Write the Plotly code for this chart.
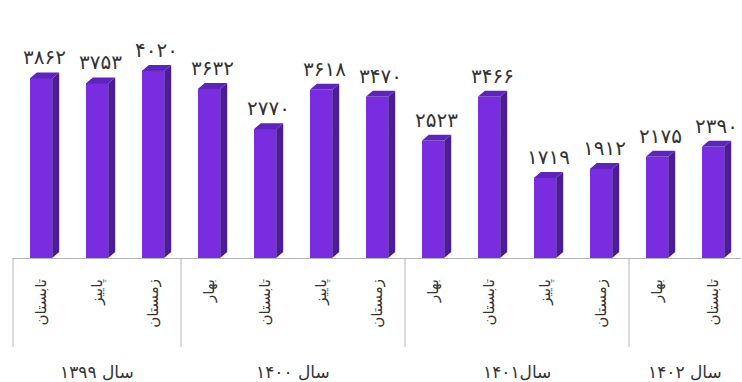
import plotly.graph_objects as go

# Seasonal values, grouped by Persian year
seasons = ["تابستان", "پاییز", "زمستان",
           "بهار", "تابستان", "پاییز", "زمستان",
           "بهار", "تابستان", "پاییز", "زمستان",
           "بهار", "تابستان"]
values = [3862, 3753, 4020, 3632, 2770, 3618, 3470, 2523, 3466, 1719, 1912, 2175, 2390]
years = ["سال ۱۳۹۹", "سال ۱۴۰۰", "سال۱۴۰۱", "سال ۱۴۰۲"]
year_sizes = [3, 4, 4, 2]

FA_DIGITS = str.maketrans("0123456789", "۰۱۲۳۴۵۶۷۸۹")


def fa(n):
    return str(n).translate(FA_DIGITS)


W, H = 742, 382
ML, MR, MT, MB = 13, 1, 0, 124
plot_h = H - MT - MB
plot_w = W - ML - MR
n = len(values)
y_top = 5548

FONT = "DejaVu Sans"
FRONT = "#7a2de0"
SIDE = "#4b1b98"
TOP = "#5d25bb"

bar_w = 0.40
# depth of the pseudo-3D extrusion, converted from pixels to data units
dx = 7 / (plot_w / n)
dy = 6 * y_top / plot_h

xs = list(range(n))

fig = go.Figure()

fig.add_trace(go.Bar(
    x=xs, y=values, width=bar_w,
    marker=dict(color=FRONT, line=dict(width=0)),
    hoverinfo="skip", showlegend=False,
))

side_x, side_y, top_x, top_y = [], [], [], []
for x, v in zip(xs, values):
    xl, xr = x - bar_w / 2, x + bar_w / 2
    side_x += [xr, xr, xr + dx, xr + dx, xr, None]
    side_y += [0, v, v + dy, dy, 0, None]
    top_x += [xl, xl + dx, xr + dx, xr, xl, None]
    top_y += [v, v + dy, v + dy, v, v, None]

fig.add_trace(go.Scatter(x=side_x, y=side_y, mode="lines", fill="toself",
                         fillcolor=SIDE, line=dict(width=0, color=SIDE),
                         hoverinfo="skip", showlegend=False))
fig.add_trace(go.Scatter(x=top_x, y=top_y, mode="lines", fill="toself",
                         fillcolor=TOP, line=dict(width=0, color=TOP),
                         hoverinfo="skip", showlegend=False))

annotations = []
for x, v in zip(xs, values):
    annotations.append(dict(
        x=x + dx / 2, y=v, xref="x", yref="y", text=fa(v), showarrow=False,
        yanchor="middle", yshift=21,
        font=dict(family=FONT, size=20, color="#333333"),
    ))

shapes = []
start = 0
for label, size in zip(years, year_sizes):
    end = start + size
    shapes.append(dict(
        type="line", xref="paper", yref="paper",
        x0=start / n, x1=start / n, y0=0, y1=-(347 - plot_h) / plot_h,
        line=dict(color="#b4b4b4", width=1),
    ))
    annotations.append(dict(
        x=(start + end) / 2 / n, y=-(372 - plot_h) / plot_h,
        xref="paper", yref="paper", text=label, showarrow=False,
        xanchor="center", yanchor="middle",
        font=dict(family=FONT, size=17, color="#333333"),
    ))
    start = end

fig.update_layout(
    width=W, height=H,
    margin=dict(l=ML, r=MR, t=MT, b=MB),
    paper_bgcolor="white", plot_bgcolor="white",
    bargap=0,
    shapes=shapes, annotations=annotations,
    xaxis=dict(
        range=[-0.5, n - 0.5],
        tickvals=xs, ticktext=seasons, tickangle=-90,
        ticks="", ticklabelstandoff=14,
        showline=True, linecolor="#b4b4b4", linewidth=1,
        showgrid=False, zeroline=False,
        tickfont=dict(family=FONT, size=15, color="#333333"),
    ),
    yaxis=dict(range=[0, y_top], visible=False, showgrid=False, zeroline=False),
)

fig.write_html("out.html")
